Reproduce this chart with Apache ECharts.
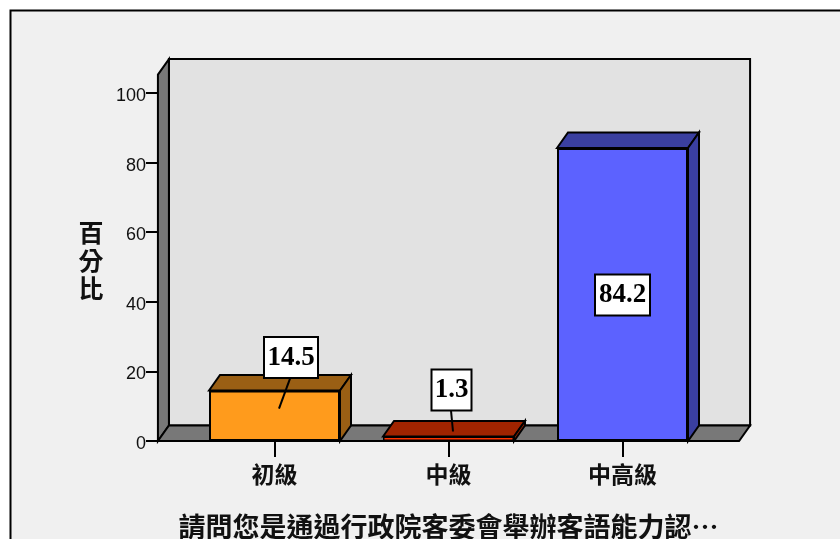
<!DOCTYPE html>
<html>
<head>
<meta charset="utf-8">
<style>html,body{margin:0;padding:0;background:#fff;overflow:hidden}#c{width:840px;height:539px}</style>
<script src="https://cdn.jsdelivr.net/npm/echarts@6/dist/echarts.min.js"></script>
</head>
<body>
<div id="c"></div>
<script>
const categories = ['初級', '中級', '中高級'];
const percentages = [14.5, 1.3, 84.2];
const axisTitle = '請問您是通過行政院客委會舉辦客語能力認…';
const valueTitle = '百\n分\n比';

const frontColors = ['#FF9B1C', '#FF3300', '#5C62FF'];
const topColors = ['#9A5F14', '#A02400', '#3A3FA0'];
const frontBorders = [2, 1.5, 2];
const calloutLayouts = [
  {dx: 16.5, dy: -33, w: 54, h: 41, from: [15.5, -12], to: [4.5, 18]},
  {dx: 3, dy: -46.5, w: 40, h: 41, from: [2.5, -26], to: [4.5, -5]},
  {dx: 0, dy: 147, w: 55, h: 41}
];
const wallMax = 105.3, depthX = 11, depthY = -15.5, sideBands = 0.67, barW = 131;
const ink = '#000';

function pts(p) { return {points: p}; }

const chart = echarts.init(document.getElementById('c'), null, {renderer: 'canvas'});
chart.setOption({
  animation: false,
  graphic: [
    {type: 'rect', z: -10, shape: {x: 10.5, y: 10.5, width: 860, height: 560},
      style: {fill: '#F0F0F0', stroke: ink, lineWidth: 2}},
    {type: 'text', x: 91, y: 260, z: 5,
      style: {text: valueTitle, align: 'center', verticalAlign: 'middle', fill: '#111',
        font: 'bold 25px "Noto Sans CJK TC"', lineHeight: 28}}
  ],
  grid: {left: 187.5, right: 130.5, top: 93, bottom: 98, outerBoundsMode: 'none'},
  xAxis: {
    type: 'category', data: categories,
    axisLine: {show: false},
    axisTick: {show: true, alignWithLabel: true, length: 16, lineStyle: {color: ink, width: 2}},
    axisLabel: {color: '#111', fontSize: 23, fontWeight: 'bold', fontFamily: '"Noto Sans CJK TC"', margin: 22},
    name: axisTitle, nameLocation: 'middle', nameGap: 72,
    nameTextStyle: {color: '#111', fontSize: 27, fontWeight: 'bold', fontFamily: '"Noto Sans CJK TC"'}
  },
  yAxis: {
    type: 'value', min: 0, max: 100, interval: 20, offset: 29.5,
    axisLine: {show: true, lineStyle: {color: ink, width: 2}},
    axisTick: {show: true, length: 12, lineStyle: {color: ink, width: 2}},
    axisLabel: {color: '#111', fontSize: 18, fontFamily: '"Liberation Sans"', margin: 12, verticalAlign: 'top', lineHeight: 6},
    splitLine: {show: false}
  },
  series: [
    {
      type: 'custom', z: 1, silent: true, clip: false, data: [[0, wallMax]],
      renderItem(params, api) {
        const band = api.size([1, 0])[0];
        const l = api.coord([0, 0])[0] - band * sideBands;
        const r = api.coord([categories.length - 1, 0])[0] + band * sideBands;
        const b = api.coord([0, 0])[1];
        const t = api.coord([0, wallMax])[1];
        const line = {stroke: ink, lineWidth: 2, lineJoin: 'miter'};
        return {type: 'group', children: [
          {type: 'polygon', shape: pts([[l + depthX, t + depthY], [r + depthX, t + depthY], [r + depthX, b + depthY], [l + depthX, b + depthY]]),
            style: {fill: '#E2E2E2', ...line}},
          {type: 'polygon', shape: pts([[l, t], [l + depthX, t + depthY], [l + depthX, b + depthY], [l, b]]),
            style: {fill: '#787878', ...line}},
          {type: 'polygon', shape: pts([[l, b], [l + depthX, b + depthY], [r + depthX, b + depthY], [r, b]]),
            style: {fill: '#787878', ...line}}
        ]};
      }
    },
    {
      type: 'custom', z: 2, silent: true, clip: false,
      data: percentages.map((v, i) => [i, v]),
      renderItem(params, api) {
        const i = api.value(0);
        const top = api.coord([i, api.value(1)]);
        const base = api.coord([i, 0]);
        const l = top[0] - barW / 2, r = top[0] + barW / 2, y = top[1], b = base[1];
        const line = {stroke: ink, lineWidth: 2};
        return {type: 'group', children: [
          {type: 'polygon', shape: pts([[l, y], [l + depthX, y + depthY], [r + depthX, y + depthY], [r, y]]),
            style: {fill: topColors[i], ...line}},
          {type: 'polygon', shape: pts([[r, y], [r + depthX, y + depthY], [r + depthX, b + depthY], [r, b]]),
            style: {fill: topColors[i], ...line}}
        ]};
      }
    },
    {
      type: 'bar', z: 3, barWidth: barW, silent: true,
      data: percentages.map((v, i) => ({value: v, itemStyle: {color: frontColors[i], borderColor: ink, borderWidth: frontBorders[i]}}))
    },
    {
      type: 'custom', z: 4, silent: true, clip: false,
      data: percentages.map((v, i) => [i, v]),
      renderItem(params, api) {
        const i = api.value(0), v = api.value(1);
        const p = api.coord([i, v]);
        const c = calloutLayouts[i];
        const cx = p[0] + c.dx, cy = p[1] + c.dy;
        const kids = [];
        if (c.from) {
          kids.push({type: 'line', shape: {x1: p[0] + c.from[0], y1: p[1] + c.from[1], x2: p[0] + c.to[0], y2: p[1] + c.to[1]},
            style: {stroke: ink, lineWidth: 2}});
        }
        kids.push({type: 'rect', shape: {x: cx - c.w / 2, y: cy - c.h / 2, width: c.w, height: c.h},
          style: {fill: '#fff', stroke: ink, lineWidth: 2}});
        kids.push({type: 'text', style: {x: cx, y: cy, text: v.toFixed(1), align: 'center', verticalAlign: 'middle',
          fill: ink, font: 'bold 27px "Liberation Serif"'}});
        return {type: 'group', children: kids};
      }
    }
  ]
});
</script>
</body>
</html>
